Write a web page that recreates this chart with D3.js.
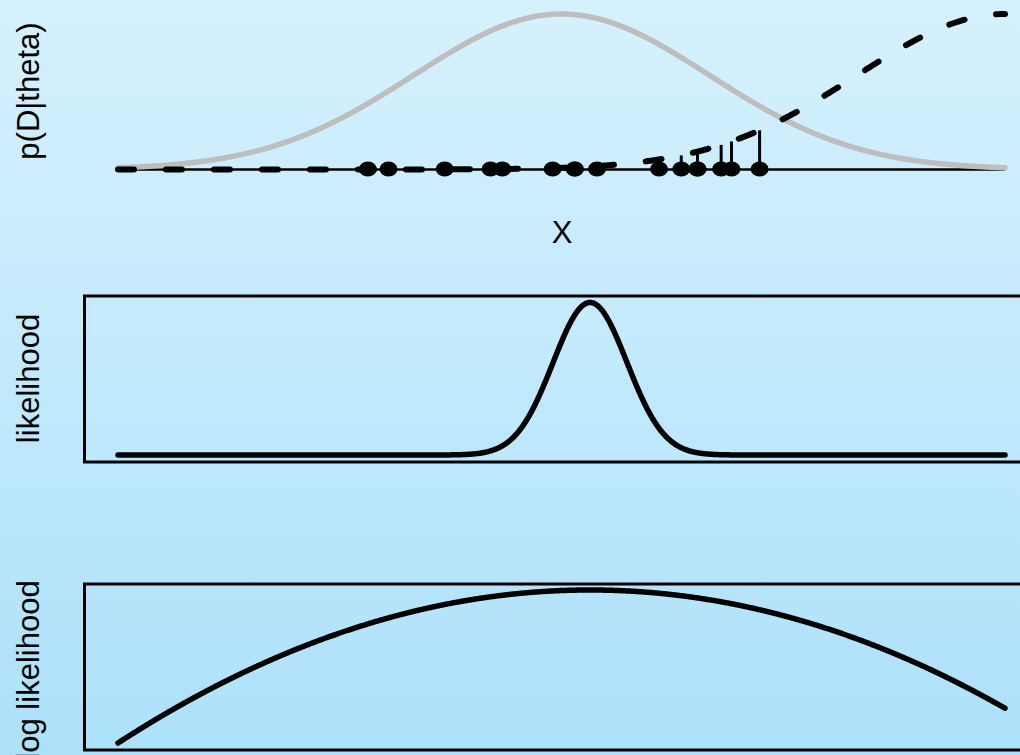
<!DOCTYPE html>
<html>
<head>
<meta charset="utf-8">
<script src="https://cdn.jsdelivr.net/npm/d3@7"></script>
<style>
  html, body { margin: 0; padding: 0; }
  body { width: 1020px; height: 755px; overflow: hidden; }
  text { font-family: "Liberation Sans", Arial, sans-serif; fill: #000; }
</style>
</head>
<body>
<svg id="chart" width="1020" height="755"></svg>
<script>
// Observed sample D (in units of the sampling sd)
const observations = [-1.31, -1.17, -0.79, -0.48, -0.40, -0.06, 0.09, 0.09, 0.24,
                      0.66, 0.81, 0.92, 0.92, 1.08, 1.15, 1.34];
// Two candidate means for the sampling distribution
const thetaTrue = 0;      // grey density
const thetaTrial = 3;     // dashed density
const sigma = 1;
// Parameter range shown on every panel
const thetaDomain = [-3, 3];
const axisLabels = ["p(D|theta)", "likelihood", "log likelihood"];
const xLabel = "X";

const W = 1020, H = 755;
const svg = d3.select("#chart");

// background wash
const defs = svg.append("defs");
const grad = defs.append("linearGradient").attr("id", "bg")
  .attr("x1", 0).attr("y1", 0).attr("x2", 0).attr("y2", 1);
grad.append("stop").attr("offset", "0%").attr("stop-color", "#d6f1fe");
grad.append("stop").attr("offset", "100%").attr("stop-color", "#ade1fa");
svg.append("rect").attr("width", W).attr("height", H).attr("fill", "url(#bg)");

const dnorm = (x, m, s) => Math.exp(-0.5 * ((x - m) / s) ** 2) / (s * Math.sqrt(2 * Math.PI));
const grid = d3.range(thetaDomain[0], thetaDomain[1] + 1e-9, 0.005);

const x = d3.scaleLinear().domain(thetaDomain).range([118, 1005]);

// ---------- Panel 1: sampling densities with the data ----------
const yTop = d3.scaleLinear().domain([0, dnorm(0, 0, sigma)]).range([169.5, 14]);

svg.append("line")
  .attr("x1", x(thetaDomain[0])).attr("x2", x(thetaDomain[1]))
  .attr("y1", yTop(0)).attr("y2", yTop(0))
  .attr("stroke", "#000").attr("stroke-width", 2.5);

svg.append("path")
  .datum(grid)
  .attr("fill", "none").attr("stroke", "#bebebe").attr("stroke-width", 5.5)
  .attr("stroke-linecap", "round")
  .attr("d", d3.line().x(d => x(d)).y(d => yTop(dnorm(d, thetaTrue, sigma))));

svg.append("path")
  .datum(grid)
  .attr("fill", "none").attr("stroke", "#000").attr("stroke-width", 6)
  .attr("stroke-linecap", "round").attr("stroke-dasharray", "16,32")
  .attr("d", d3.line().x(d => x(d)).y(d => yTop(dnorm(d, thetaTrial, sigma))));

// stems: density of each observation under the dashed model
svg.append("g").selectAll("line").data(observations).join("line")
  .attr("x1", d => x(d)).attr("x2", d => x(d))
  .attr("y1", yTop(0)).attr("y2", d => yTop(dnorm(d, thetaTrial, sigma)))
  .attr("stroke", "#000").attr("stroke-width", 3);

svg.append("g").selectAll("ellipse").data(observations).join("ellipse")
  .attr("cx", d => x(d)).attr("cy", yTop(0) - 0.5)
  .attr("rx", 9).attr("ry", 7.5).attr("fill", "#000");

svg.append("text").attr("x", 562).attr("y", 242.5)
  .attr("text-anchor", "middle").attr("font-size", 31).text(xLabel);

// ---------- likelihood over theta ----------
const logLik = t => d3.sum(observations, xi => Math.log(dnorm(xi, t, sigma)));
const llValues = grid.map(t => ({ t, ll: logLik(t) }));
const llMax = d3.max(llValues, d => d.ll);
const llMin = d3.min(llValues, d => d.ll);

// Panel 2: likelihood
svg.append("rect").attr("x", 84.5).attr("y", 296).attr("width", 1000).attr("height", 166)
  .attr("fill", "none").attr("stroke", "#000").attr("stroke-width", 3);
const yL = d3.scaleLinear().domain([0, 1]).range([455, 302.5]);
svg.append("path")
  .datum(llValues)
  .attr("fill", "none").attr("stroke", "#000").attr("stroke-width", 5.5)
  .attr("stroke-linecap", "round").attr("stroke-linejoin", "round")
  .attr("d", d3.line().x(d => x(d.t)).y(d => yL(Math.exp(d.ll - llMax))));

// Panel 3: log likelihood
svg.append("rect").attr("x", 84.5).attr("y", 584).attr("width", 1000).attr("height", 166)
  .attr("fill", "none").attr("stroke", "#000").attr("stroke-width", 3);
const yLL = d3.scaleLinear().domain([llMin, llMax]).range([743, 590]);
svg.append("path")
  .datum(llValues)
  .attr("fill", "none").attr("stroke", "#000").attr("stroke-width", 5.5)
  .attr("stroke-linecap", "round").attr("stroke-linejoin", "round")
  .attr("d", d3.line().x(d => x(d.t)).y(d => yLL(d.ll)));

// rotated axis titles
const titleY = [91, 378.5, 670];
axisLabels.forEach((lab, i) => {
  svg.append("text")
    .attr("transform", `translate(38.5,${titleY[i]}) rotate(-90)`)
    .attr("text-anchor", "middle").attr("font-size", 31).text(lab);
});
</script>
</body>
</html>
